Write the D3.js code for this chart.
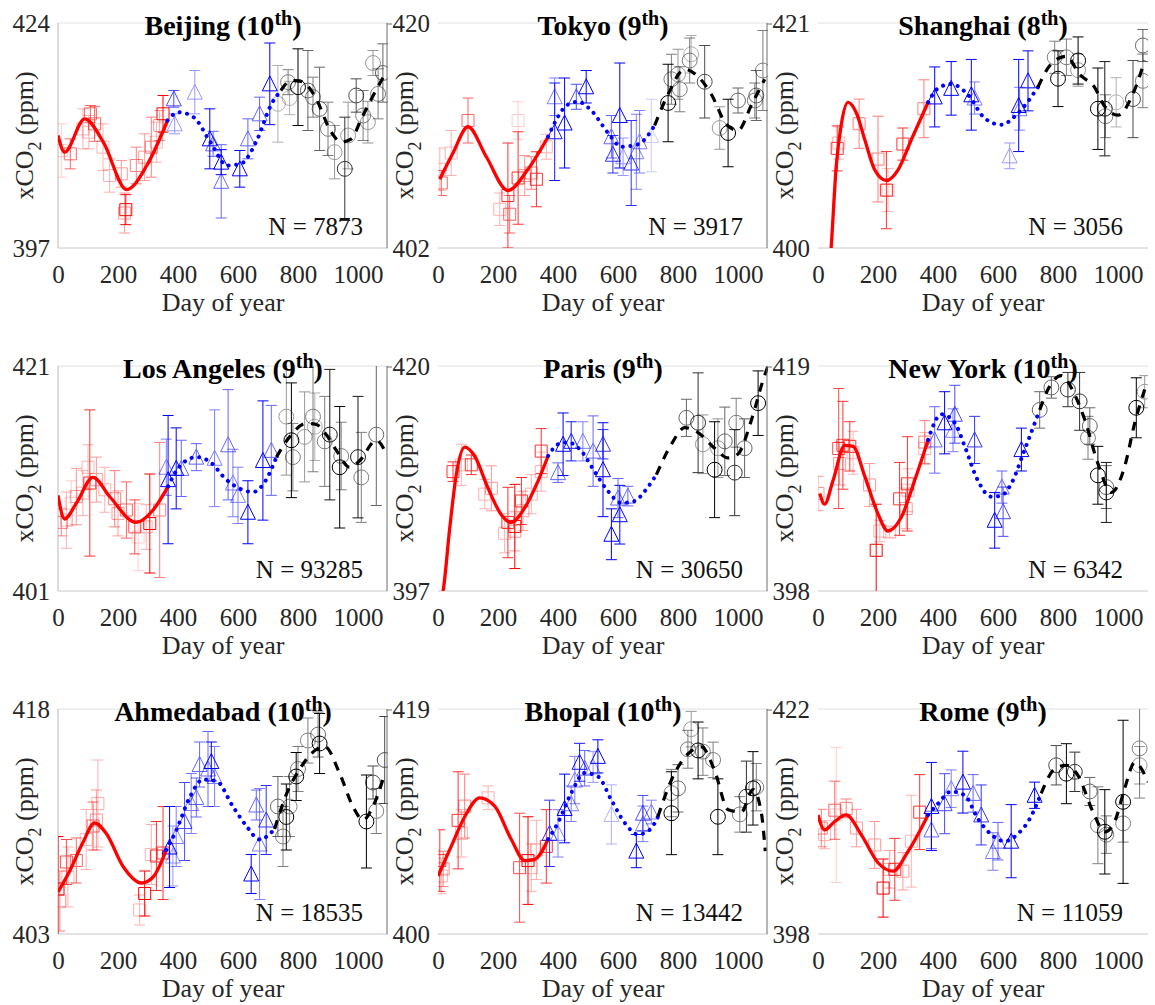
<!DOCTYPE html>
<html>
<head>
<meta charset="utf-8">
<script src="https://cdn.jsdelivr.net/npm/d3@7/dist/d3.min.js"></script>
<style>
body { margin: 0; background: #fff; }
text { font-family: "Liberation Serif", "Times New Roman", serif; }
</style>
</head>
<body>
<div id="chart"></div>
<script>
// panels, read left to right, top to bottom
var cities = ["Beijing", "Tokyo", "Shanghai", "Los Angeles", "Paris", "New York", "Ahmedabad", "Bhopal", "Rome"];
var ranks  = ["10", "9", "8", "9", "9", "10", "10", "10", "9"];
var counts = [7873, 3917, 3056, 93285, 30650, 6342, 18535, 13442, 11059];
var yMin   = [397, 402, 400, 401, 397, 398, 403, 400, 398];
var yMax   = [424, 420, 421, 421, 420, 419, 418, 419, 422];
var xTicks = [0, 200, 400, 600, 800, 1000];

// fitted curves, knots [day, ppm]
var redFits = [
  [[0,410.5],[22,408.5],[89,412.5],[151,409.7],[229,404.0],[296,406.9],[365,412.3]],
  [[6,407.5],[50,409.6],[100,411.7],[161,409.3],[233,406.6],[300,408.3],[367,410.9]],
  [[30,395],[44,400.1],[61,407.7],[78,411.6],[100,413.6],[128,412.6],[156,410.1],[189,407.3],[228,406.3],[267,407.3],[311,410.1],[367,413.6]],
  [[0,409.5],[22,407.4],[61,408.8],[117,411.1],[172,409.4],[261,407.1],[317,408.2],[367,410.3]],
  [[0,395.5],[17,397],[39,403.4],[61,408.9],[89,411.7],[122,410.8],[167,407.5],[211,404.8],[244,404],[289,405.5],[333,408.2],[367,410.8]],
  [[6,407.1],[22,406.1],[50,408.3],[89,411.6],[117,411.5],[156,408.7],[200,405.2],[233,403.6],[278,404.9],[322,408.3],[367,412.1]],
  [[0,405.8],[39,407.2],[83,409.1],[122,410.4],[161,409.7],[217,407.5],[278,406.4],[317,406.8],[361,408.6]],
  [[0,404.9],[44,407.4],[89,409.9],[139,411.5],[189,410.8],[244,408],[289,406.2],[322,406.3],[367,408]],
  [[0,410.7],[22,409.1],[56,410],[94,410.7],[144,408.6],[200,405.6],[250,404.7],[300,406.8],[367,410.7]]
];
var blueFits = [
  [[365,412.3],[402,413.3],[452,412.7],[508,409.7],[564,406.9],[609,407.1],[665,410.1],[709,414.1],[743,415.9]],
  [[367,410.9],[400,412.5],[428,413.4],[467,413.7],[511,413.0],[567,411.2],[611,410.1],[667,410.3],[722,411.8]],
  [[367,413.6],[400,414.9],[444,415.3],[500,414.3],[556,412.1],[611,411.5],[667,412.6],[733,415]],
  [[367,410.3],[406,412.1],[461,412.9],[506,412.5],[561,410.9],[606,410.1],[650,409.8],[694,410.9],[728,412.9]],
  [[367,410.8],[400,412],[433,412.2],[478,411.3],[522,409.2],[567,407.2],[611,406],[656,406.2],[689,407.2],[728,408.9]],
  [[367,412.1],[411,414.5],[456,413.7],[489,411.5],[533,408.3],[578,406.8],[611,406.9],[644,408],[689,411.2],[739,414.9]],
  [[361,408.6],[394,409.9],[439,412.1],[483,413.3],[528,413.2],[583,411.5],[628,410.2],[672,409.3],[722,410]],
  [[367,408],[400,409.4],[444,411.9],[489,413.6],[533,413.3],[578,411.3],[622,409.4],[667,408.4],[706,408.8],[733,409.9]],
  [[367,410.7],[400,411.9],[444,413.2],[489,412.8],[533,410.3],[578,408.6],[622,407.9],[667,408.7],[706,410.3],[744,413]]
];
var blackFits = [
  [[743,415.9],[777,417.1],[810,417.0],[855,415.3],[911,410.9],[944,409.7],[978,410.1],[1011,412.5],[1045,414.9],[1089,417.8]],
  [[722,411.8],[767,414.3],[822,416.3],[867,415.7],[911,414.3],[961,411.9],[1000,411.4],[1044,413.4],[1089,415.5]],
  [[733,415],[778,417.2],[828,417.9],[872,416.2],[922,415],[956,413.2],[1000,412.4],[1050,414.4],[1089,417.5]],
  [[728,412.9],[772,414.7],[828,415.9],[861,415.8],[894,414.9],[928,413.5],[972,412],[1006,412.6],[1061,414.4],[1089,413.5]],
  [[728,408.9],[778,412],[822,413.7],[867,413.2],[922,411.6],[967,410.6],[1000,411],[1044,414.4],[1083,418.5],[1100,420]],
  [[739,414.9],[772,417.1],[811,418.1],[856,416.3],[889,414],[933,409.9],[978,407.2],[1022,409.6],[1056,413.7],[1089,416.8]],
  [[722,410],[761,412.3],[806,414],[861,415.3],[889,415.5],[939,413.7],[983,411.5],[1017,410.6],[1050,411.5],[1083,413.3]],
  [[733,409.9],[778,413],[833,415.2],[878,415.8],[922,413.8],[967,410.5],[1011,410.3],[1050,412.2],[1078,410.2],[1091,407]],
  [[744,413],[789,415.6],[828,416],[867,414.9],[917,411],[956,408.9],[989,410],[1022,413.5],[1056,416.3],[1100,414.2]]
];

// observations [day, ppm, error, opacity]
var redObs = [
  [[11,408.7,3.2,0.2],[41,408.3,1.8,0.6],[83,411.3,2.4,0.3],[103,410.9,2,0.3],[108,413.1,1,0.6],[122,411.9,2.1,0.6],[150,409.1,2.8,0.3],[172,405.7,2,0.3],[211,405.9,1.6,0.4],[222,401.2,2.4,0.4],[226,401.6,1.8,1],[261,406.9,2.2,0.5],[289,407.9,2.8,0.4],[311,409.1,3.6,0.5],[328,409.7,2.4,0.3],[339,411.7,1.8,0.4],[350,413.1,2.2,1]],
  [[6,408.3,1.7,0.3],[11,407.2,1,0.6],[44,409.6,1.8,0.3],[100,412.2,1.8,0.6],[206,405.1,1.3,0.3],[233,406.2,4.2,0.8],[239,404.7,1.5,0.6],[267,412.2,1.5,0.2],[267,407.6,3.7,0.8],[289,407.8,1.6,0.4],[311,408,1.3,0.5],[328,407.5,2.2,0.8],[361,410.1,1,0.3]],
  [[64,409.3,2.1,0.8],[69,409.8,1.5,0.3],[137,411.6,2.3,0.5],[200,408.3,4,0.5],[228,405.4,3.6,0.8],[233,405.4,2,0.3],[283,409.7,1.5,0.8],[353,413,2.7,0.5]],
  [[11,407.1,1.2,0.5],[28,407.3,2.5,0.3],[44,408.8,2,0.2],[61,409.4,2.5,0.4],[83,409.7,2,0.3],[100,412,2,0.3],[106,410.6,6.5,0.8],[128,410.9,2,0.4],[156,410,2,0.3],[189,409.2,2.5,0.5],[200,407.9,2,0.4],[228,408.2,2.5,0.6],[256,406.7,2.4,0.7],[267,405.8,3,0.2],[294,406.7,2,0.3],[306,407,4.4,1],[339,408.2,6,0.5]],
  [[50,409.2,1,0.8],[78,409.9,2.1,0.3],[111,409.9,1,0.8],[156,406.9,1.5,0.3],[178,407.5,2.3,0.4],[222,402.9,2,0.3],[233,404,3.6,0.8],[256,403.6,4.3,1],[256,403.1,2,0.4],[278,406.2,2.4,0.8],[283,405.2,2,0.4],[311,406.9,2,0.3],[344,411.3,2.3,0.8],[344,409.2,2,0.3]],
  [[0,407.1,1.6,0.4],[69,411.3,5.6,0.7],[72,409.9,2,0.4],[83,411.6,4.1,0.8],[106,411.5,2.3,0.8],[117,410.9,2,0.3],[172,407.9,2,0.4],[194,401.8,4.3,1],[206,403.6,1,0.3],[239,403.5,0.5,0.3],[272,406.6,3.4,0.8],[294,405.7,1.9,0.4],[298,408,4.4,0.8],[300,407.4,2,0.3],[356,411.9,2,0.5],[356,411.3,1.5,0.3]],
  [[0,406,3.5,1],[6,405.2,2,0.5],[28,407.8,1.5,0.7],[33,406.8,2,0.3],[61,407.9,1.5,0.6],[94,409.3,2,0.3],[117,410.2,1.6,0.6],[128,410.6,2,0.4],[133,411.7,2.9,0.3],[272,404.6,1,0.3],[289,405.7,1.5,1],[311,408.3,2,0.3],[328,408.2,2.3,0.8],[350,408.4,3.1,0.8]],
  [[6,406.2,2.6,0.8],[11,404.9,1.5,0.3],[17,405.5,1.5,0.5],[67,409.6,4.1,0.8],[78,408.5,2,0.3],[89,410.8,2.7,0.5],[167,411.5,1,0.3],[272,405.6,4.6,0.7],[300,406.2,3.7,1],[311,405.6,2,0.3],[328,407.1,2.5,0.3],[361,407.4,3.1,0.8]],
  [[11,409.3,2,0.5],[22,408.6,1.5,0.3],[56,411.2,3.1,0.6],[61,410.7,7.2,0.2],[94,411.4,1,0.5],[128,409.3,2,0.4],[189,407.5,2.5,0.4],[217,402.9,3.1,1],[239,404.9,2,0.4],[256,404.9,3.3,0.8],[283,404.7,2,0.4],[311,407.9,4.9,0.3],[339,411,4,0.8]]
];
var blueObs = [
  [[386,414.9,1,0.7],[389,411.9,1.2,0.4],[456,415.7,2.6,0.4],[506,410.1,3.6,1],[517,409.5,1.5,0.6],[544,407.3,1.5,1],[544,405,4.4,0.6],[606,406.5,2.2,1],[633,410.1,2.4,0.6],[672,413.1,2,0.6],[706,416.7,4.9,1]],
  [[389,414.1,1.5,0.5],[389,411.3,3.9,0.9],[422,412,3.6,1],[461,414.1,1,0.7],[494,414.9,1.3,1],[578,410.9,1.7,0.6],[583,409.5,1.5,0.8],[606,412.6,4.2,1],[617,409.3,1.5,0.4],[644,408.8,3.4,0.8],[661,409.7,3,0.5],[672,410.5,2.5,0.5],[711,411,2.9,0.2]],
  [[389,414.1,2.8,1],[444,414.9,2.5,1],[511,414.3,3.3,1],[522,414,1.5,0.5],[639,408.6,1.2,0.4],[669,413.3,4.3,1],[672,413,2,0.5],[700,415.6,2.8,1]],
  [[361,412,2.5,0.5],[367,410.9,5.7,1],[394,411.9,3.6,1],[411,411.9,2.5,0.6],[461,412.9,1.2,0.6],[522,412.8,4.3,0.5],[567,414,4.9,0.6],[583,410.6,3,0.5],[600,409.5,2.5,0.5],[633,408,2.8,1],[683,412.6,5.3,1],[711,413.5,4,0.6]],
  [[400,409.1,1,0.6],[417,412,3.2,1],[444,412.3,2,0.9],[483,412.3,2,0.5],[517,411.3,3.6,0.6],[550,412,1.5,0.8],[550,409.4,4.8,1],[578,402.8,2.6,1],[600,406.5,2,0.6],[606,404.8,3,1],[633,406.7,1,0.6]],
  [[389,412.1,3.1,0.6],[422,413.7,2.9,1],[450,413,2,0.5],[456,414.5,2.7,0.7],[522,412.1,2.2,0.8],[589,404.6,2.6,1],[613,407.7,1.5,0.6],[617,405.4,2.3,0.7],[678,411.2,2,1]],
  [[372,408.8,2.7,1],[383,408.2,2,0.4],[394,409.5,2,0.5],[422,410.5,2.6,0.7],[444,411.7,2,0.5],[461,412.1,1.3,0.6],[472,414.3,1.5,0.6],[500,414,2.5,0.6],[511,414.5,1.3,1],[522,413.5,2,0.5],[644,407,1.3,1],[661,411.6,1,0.6],[672,409,3.7,0.5],[694,410.6,2.3,0.8]],
  [[372,408.5,2.8,0.8],[400,408.5,2,0.5],[422,410.6,2.9,1],[444,411,1.5,0.5],[456,413,2,0.5],[472,414.5,1.6,0.9],[489,414,1.5,0.6],[517,414.1,1.3,0.4],[533,415,1.4,1],[578,410.1,2.5,0.3],[661,407,1.4,1],[683,410.2,1.5,0.7],[683,409.3,1.5,0.5],[711,410.3,1,0.5]],
  [[378,411.6,4.7,1],[378,409.1,2,0.6],[422,411.9,3.2,0.7],[444,413.5,2,0.5],[483,414.2,3.3,1],[517,413,2,0.6],[544,410.7,3.2,0.8],[583,406.8,2,0.5],[600,407.9,2,0.6],[644,407.9,3.9,1],[722,412.8,1.4,1]]
];
var blackObs = [
  [[733,414.3,4.6,0.3],[767,416.9,1.5,0.5],[772,415,2,0.3],[800,416.3,4.6,1],[833,415.9,4.8,0.6],[850,415.1,2.4,0.5],[872,413.7,5,0.6],[900,411.3,3.2,0.5],[922,408.5,3.2,0.4],[956,406.5,6.2,0.8],[967,410.5,4,0.4],[994,415.3,2,0.7],[1017,412.9,3,0.5],[1033,412.1,2.5,0.4],[1050,419.2,1.5,0.4],[1067,415.5,3,0.5],[1083,418,3.5,0.6]],
  [[767,413.6,3.1,1],[778,415.5,2,0.5],[800,415.9,2,0.4],[806,414.7,1.8,0.5],[839,417,1.8,0.5],[844,417.5,1.5,0.3],[889,415.3,2.9,0.7],[939,411.6,1.7,0.4],[967,411.2,2.7,1],[1000,413.8,1,0.6],[1056,413.8,1.4,0.5],[1061,414.2,2,0.6],[1083,416.2,3.2,0.5]],
  [[789,417.8,1.5,0.5],[800,415.8,2.6,1],[828,417.8,1.7,0.5],[867,417.5,2.2,1],[867,416.6,1.5,0.4],[933,413,3.8,1],[956,413,4.4,0.9],[958,412.3,2,0.5],[994,413.6,2.3,0.3],[1050,413.9,3.6,0.7],[1083,415.6,2.5,0.5],[1083,418.9,1.5,0.6]],
  [[761,416.5,5.2,0.4],[778,414.4,5.1,1],[783,412.9,3,0.5],[822,414.7,4,0.4],[850,416.5,4.9,0.5],[856,415.6,3,0.3],[889,414.3,4,0.5],[906,414.9,5.8,0.9],[939,412,5.4,1],[944,413,3,0.5],[1000,412.9,5.4,0.9],[1011,411.1,4,0.5],[1061,414.9,6.3,0.6]],
  [[828,414.7,1.9,0.6],[867,414.2,5.1,0.8],[883,412,3,0.4],[922,409.4,4.9,1],[933,411.6,3,0.4],[956,412.3,3.5,0.6],[989,409.1,4.4,0.8],[994,414.2,2.5,0.5],[1022,411.6,3,0.6],[1067,416.2,3.3,1]],
  [[739,414.9,1.7,0.6],[778,417,1,0.6],[833,416.8,1.6,0.8],[872,415.7,2.7,0.8],[900,412.3,2,0.5],[906,413.4,1.7,0.6],[933,408.8,2.7,1],[961,407.7,2,0.6],[961,407.2,2.8,0.9],[1061,415.1,2.8,1],[1089,416.6,1.5,0.4]],
  [[733,411.5,2,0.6],[750,409.5,2,0.5],[761,410.8,2.2,1],[772,411.5,2,0.5],[794,413.5,1.6,1],[800,414,1.5,0.5],[833,415.9,1.5,0.5],[867,416.3,1.5,0.6],[872,415.7,2,1],[1028,410.5,3.1,1],[1050,413.1,1.1,0.7],[1061,411.2,1.5,0.5],[1089,414.6,2.9,0.7]],
  [[778,410.2,3.5,1],[778,411.9,2,0.5],[800,412.3,2,0.6],[833,415.6,1.6,0.5],[844,417.3,1.5,0.4],[867,415.5,2.4,1],[883,415.4,2,0.5],[917,414.7,1.5,0.5],[933,409.9,3.2,1],[1006,410.1,1.5,0.5],[1028,411.6,3,0.8],[1050,412.3,3.1,1],[1061,412.4,2,0.5]],
  [[794,416,2.1,0.7],[828,415.1,3.2,1],[856,415.3,2.1,0.8],[906,413.2,1.5,0.6],[933,409.6,4.1,0.5],[956,408.9,4.5,1],[961,408.6,2,0.5],[1017,412.1,8.7,1],[1017,409.8,2,0.5],[1072,417.8,5.3,0.5],[1072,416,2,0.4]]
];

var W = 1155, H = 1005;
var colLeft = [58, 438, 818],
    rowTop  = [23, 366, 709];
var pw = 330, ph = 225;

var series = [
  {fits: redFits,   obs: redObs,   color: "#ff0000", shape: "square",   dash: null,      width: 3.3, cap: "butt"},
  {fits: blueFits,  obs: blueObs,  color: "#0000ff", shape: "triangle", dash: "0.1 7.5", width: 4,   cap: "round"},
  {fits: blackFits, obs: blackObs, color: "#000000", shape: "circle",   dash: "9 8",     width: 3.2, cap: "butt"}
];

var markerPath = {
  square:   d3.symbol().type(d3.symbolSquare).size(144)(),
  circle:   d3.symbol().type(d3.symbolCircle).size(175)(),
  triangle: "M0,-8L7.5,7L-7.5,7Z"
};

var svg = d3.select("#chart").append("svg")
    .attr("width", W)
    .attr("height", H);

cities.forEach(function(city, i) {
  var col = i % 3,
      L = colLeft[col],
      T = rowTop[Math.floor(i / 3)];

  var x = d3.scaleLinear().domain([0, 1100]).range([0, pw]),
      y = d3.scaleLinear().domain([yMin[i], yMax[i]]).range([ph, 0]);

  var g = svg.append("g").attr("transform", "translate(" + L + "," + T + ")");

  // box (the left spine of columns 2 and 3 sits against the neighbour)
  g.append("line").attr("x1", 0).attr("x2", pw).attr("y1", 0).attr("y2", 0).attr("stroke", "#e0e0e0");
  g.append("line").attr("x1", 0).attr("x2", pw).attr("y1", ph).attr("y2", ph).attr("stroke", "#c8c8c8");
  var sx = col === 0 ? 0 : -51;
  g.append("line").attr("x1", sx).attr("x2", sx).attr("y1", 0).attr("y2", ph)
    .attr("stroke", col === 0 ? "#b8b8b8" : "#6e6e6e");
  if (col > 0) {
    g.append("line").attr("x1", sx).attr("x2", sx + 5).attr("y1", 1).attr("y2", 1).attr("stroke", "#6e6e6e");
  }

  g.append("clipPath").attr("id", "clip" + i)
    .append("rect").attr("width", pw).attr("height", ph);

  var plot = g.append("g").attr("clip-path", "url(#clip" + i + ")");

  // observations with error bars
  series.forEach(function(s) {
    var pts = plot.selectAll(".pt-" + s.shape)
      .data(s.obs[i])
      .enter().append("g")
      .attr("class", "pt-" + s.shape)
      .attr("opacity", function(d) { return d[3]; })
      .attr("stroke", s.color)
      .attr("stroke-width", 1)
      .attr("fill", "none");

    pts.append("line")
      .attr("x1", function(d) { return x(d[0]); })
      .attr("x2", function(d) { return x(d[0]); })
      .attr("y1", function(d) { return y(d[1] - d[2]); })
      .attr("y2", function(d) { return y(d[1] + d[2]); });
    [-1, 1].forEach(function(sign) {
      pts.append("line")
        .attr("x1", function(d) { return x(d[0]) - 5.5; })
        .attr("x2", function(d) { return x(d[0]) + 5.5; })
        .attr("y1", function(d) { return y(d[1] + sign * d[2]); })
        .attr("y2", function(d) { return y(d[1] + sign * d[2]); });
    });
    pts.append("path")
      .attr("d", markerPath[s.shape])
      .attr("transform", function(d) { return "translate(" + x(d[0]) + "," + y(d[1]) + ")"; });
  });

  // fitted curves
  var line = d3.line()
    .curve(d3.curveMonotoneX)
    .x(function(d) { return x(d[0]); })
    .y(function(d) { return y(d[1]); });

  series.forEach(function(s) {
    plot.append("path")
      .datum(s.fits[i])
      .attr("fill", "none")
      .attr("stroke", s.color)
      .attr("stroke-width", s.width)
      .attr("stroke-linecap", s.cap)
      .attr("stroke-dasharray", s.dash)
      .attr("d", line);
  });

  // axes
  var ax = g.append("g")
    .attr("transform", "translate(0," + ph + ")")
    .call(d3.axisBottom(x).tickValues(xTicks).tickFormat(d3.format("d")).tickSize(0).tickPadding(17));
  var ay = g.append("g")
    .call(d3.axisLeft(y).tickValues([yMin[i], yMax[i]]).tickFormat(d3.format("d")).tickSize(0).tickPadding(8));
  [ax, ay].forEach(function(a) {
    a.select(".domain").remove();
    a.selectAll("text")
      .style("font-family", "'Liberation Serif', serif")
      .style("font-size", "25px")
      .style("fill", "#262626");
  });

  // labels
  g.append("text")
    .attr("x", pw / 2)
    .attr("y", ph + 63)
    .attr("text-anchor", "middle")
    .style("font-size", "26px")
    .style("fill", "#262626")
    .text("Day of year");

  var yl = g.append("text")
    .attr("transform", "translate(-25," + (ph / 2) + ") rotate(-90)")
    .attr("text-anchor", "middle")
    .style("font-size", "26px")
    .style("fill", "#262626");
  yl.append("tspan").text("xCO");
  yl.append("tspan").style("font-size", "18px").attr("dy", 8).text("2");
  yl.append("tspan").attr("dy", -8).text(" (ppm)");

  var title = g.append("text")
    .attr("x", pw / 2)
    .attr("y", 12)
    .attr("text-anchor", "middle")
    .style("font-size", "28px")
    .style("font-weight", "bold")
    .style("fill", "#000");
  title.append("tspan").text(city + " (" + ranks[i]);
  title.append("tspan").style("font-size", "20px").attr("dy", -10).text("th");
  title.append("tspan").attr("dy", 10).text(")");

  g.append("text")
    .attr("x", pw - 25)
    .attr("y", ph - 13)
    .attr("text-anchor", "end")
    .style("font-size", "25px")
    .style("fill", "#111")
    .text("N = " + counts[i]);
});
</script>
</body>
</html>
